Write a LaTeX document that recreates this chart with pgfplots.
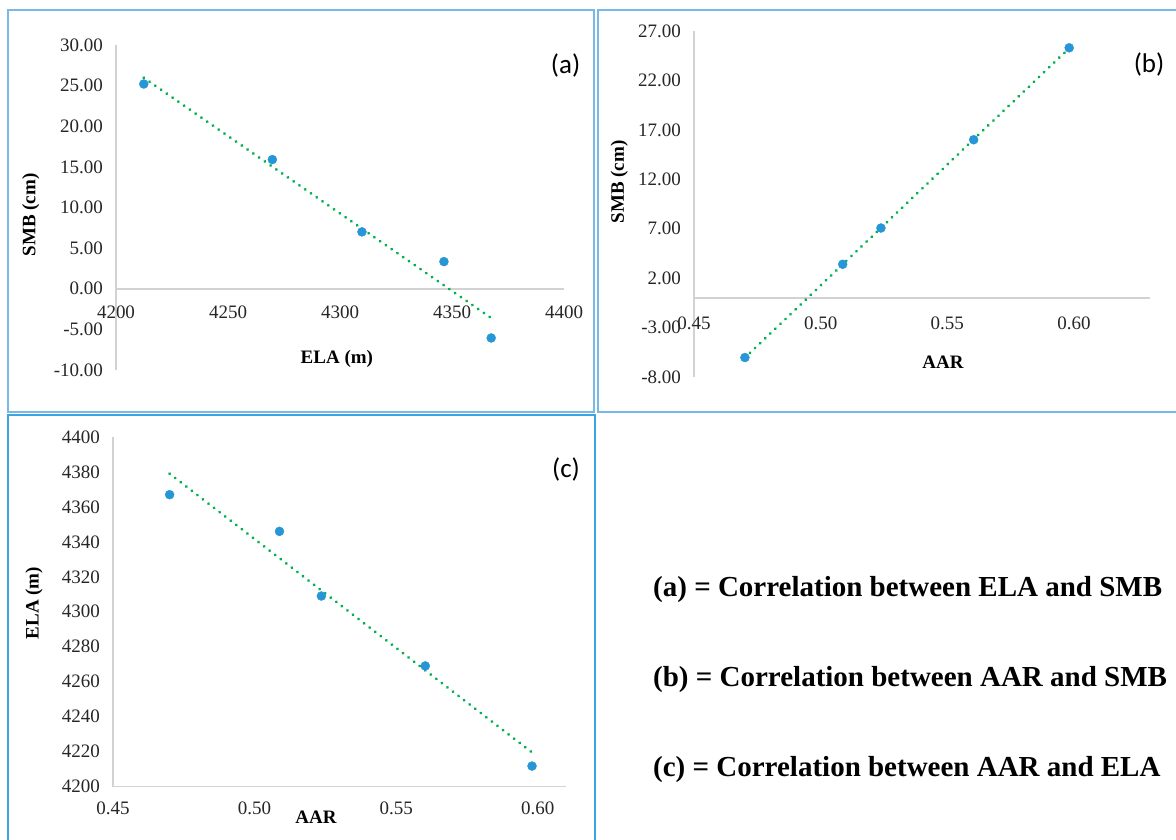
\documentclass[border=0pt]{standalone}
\usepackage{fontspec}
\setmainfont{Liberation Serif}
\newfontfamily\calibri{Carlito}
\usepackage{pgfplots}
\pgfplotsset{compat=1.18}
\definecolor{frameA}{RGB}{120,185,230}
\definecolor{frameC}{RGB}{60,165,225}
\definecolor{ptblue}{RGB}{38,150,214}
\definecolor{trendgreen}{RGB}{0,176,80}
\definecolor{axgray}{RGB}{210,210,210}
\tikzset{lab/.style={font=\bfseries\fontsize{19}{21}\selectfont, text=black}}
\pgfplotsset{
  excel/.style={
    scale only axis,
    axis line style={-, draw=axgray, line width=1.6pt},
    major tick length=0pt,
    hide obscured x ticks=false,
    hide obscured y ticks=false,
    tick label style={font=\fontsize{19}{21}\selectfont, text=black!85},
    yticklabel style={anchor=east, xshift=-9.5pt},
    clip=false,
  },
  pts/.style={only marks, mark=*, mark size=4.5pt, mark options={fill=ptblue, draw=ptblue}},
  trend/.style={no marks, trendgreen, line width=3.2pt, line cap=round, dash pattern=on 0.01pt off 7pt},
}
\begin{document}
\begin{tikzpicture}[x=1pt,y=1pt]
\path[use as bounding box] (0,0) rectangle (1176,839);
\begin{scope}
\clip (0,0) rectangle (1176,839);
\draw[frameA, line width=2pt] (8,829) rectangle (594,427);
\draw[frameA, line width=2pt] (598,829) rectangle (1185,427);
\draw[frameC, line width=2pt] (8,424) rectangle (595,-10);
\end{scope}

% ---------- (a) ----------
\begin{axis}[excel,
  at={(116pt,469pt)}, anchor=south west, width=448pt, height=325pt,
  xmin=4200, xmax=4400, ymin=-10, ymax=30,
  axis x line*=middle, axis y line*=left,
  xtick={4200,4250,4300,4350,4400},
  xticklabels={4200,4250,4300,4350,4400},
  ytick={-10,-5,0,5,10,15,20,25,30},
  yticklabels={-10.00,-5.00,0.00,5.00,10.00,15.00,20.00,25.00,30.00},
  xticklabel style={anchor=center, yshift=-24pt},
  xlabel={ELA (m)}, ylabel={SMB (cm)},
  xlabel style={lab, at={(axis description cs:0.493,0.034)}, anchor=center},
  ylabel style={lab, at={(axis description cs:-0.19,0.477)}, anchor=center},
]
\addplot[pts] coordinates {(4212.4,25.2) (4269.8,15.9) (4309.8,7.0) (4346.4,3.34) (4367.5,-6.06)};
\addplot[trend] coordinates {(4212.4,25.97) (4367.5,-3.6)};
\node[font=\calibri\fontsize{27}{30}\selectfont] at (axis description cs:1.0036,0.938) {(a)};
\end{axis}

% ---------- (b) ----------
\begin{axis}[excel,
  at={(694pt,462pt)}, anchor=south west, width=456pt, height=346pt,
  xmin=0.45, xmax=0.63, ymin=-8, ymax=27,
  axis x line*=middle, axis y line*=left,
  xtick={0.45,0.5,0.55,0.6},
  xticklabels={0.45,0.50,0.55,0.60},
  ytick={-8,-3,2,7,12,17,22,27},
  yticklabels={-8.00,-3.00,2.00,7.00,12.00,17.00,22.00,27.00},
  xticklabel style={anchor=center, yshift=-25pt},
  xlabel={AAR}, ylabel={SMB (cm)},
  xlabel style={lab, at={(axis description cs:0.546,0.043)}, anchor=center},
  ylabel style={lab, at={(axis description cs:-0.164,0.564)}, anchor=center},
]
\addplot[pts] coordinates {(0.4701,-6.03) (0.5087,3.40) (0.5238,7.07) (0.5604,16.0) (0.5981,25.3)};
\addplot[trend] coordinates {(0.4701,-6.05) (0.5981,25.26)};
\node[font=\calibri\fontsize{27}{30}\selectfont] at (axis description cs:0.998,0.902) {(b)};
\end{axis}

% ---------- (c) ----------
\begin{axis}[excel,
  at={(113pt,52.5pt)}, anchor=south west, width=453pt, height=349.5pt,
  xmin=0.45, xmax=0.61, ymin=4200, ymax=4400,
  axis x line*=bottom, axis y line*=left,
  xtick={0.45,0.5,0.55,0.6},
  xticklabels={0.45,0.50,0.55,0.60},
  ytick={4200,4220,4240,4260,4280,4300,4320,4340,4360,4380,4400},
  yticklabels={4200,4220,4240,4260,4280,4300,4320,4340,4360,4380,4400},
  xticklabel style={anchor=center, yshift=-21.5pt},
  xlabel={AAR}, ylabel={ELA (m)},
  xlabel style={lab, at={(axis description cs:0.448,-0.087)}, anchor=center},
  ylabel style={lab, at={(axis description cs:-0.174,0.525)}, anchor=center},
]
\addplot[pts] coordinates {(0.470,4367) (0.5088,4346) (0.5236,4309) (0.5603,4269) (0.598,4211.7)};
\addplot[trend] coordinates {(0.470,4379) (0.598,4219.5)};
\node[font=\calibri\fontsize{27}{30}\selectfont] at (axis description cs:1.0,0.906) {(c)};
\end{axis}

% ---------- legend text ----------
\begin{scope}[every node/.style={anchor=west, inner sep=0pt, font=\bfseries\fontsize{29}{32}\selectfont}]
\node at (653,249) {(a) = Correlation between ELA and SMB};
\node at (653,159) {(b) = Correlation between AAR and SMB};
\node at (653,69) {(c) = Correlation between AAR and ELA};
\end{scope}
\end{tikzpicture}
\end{document}
